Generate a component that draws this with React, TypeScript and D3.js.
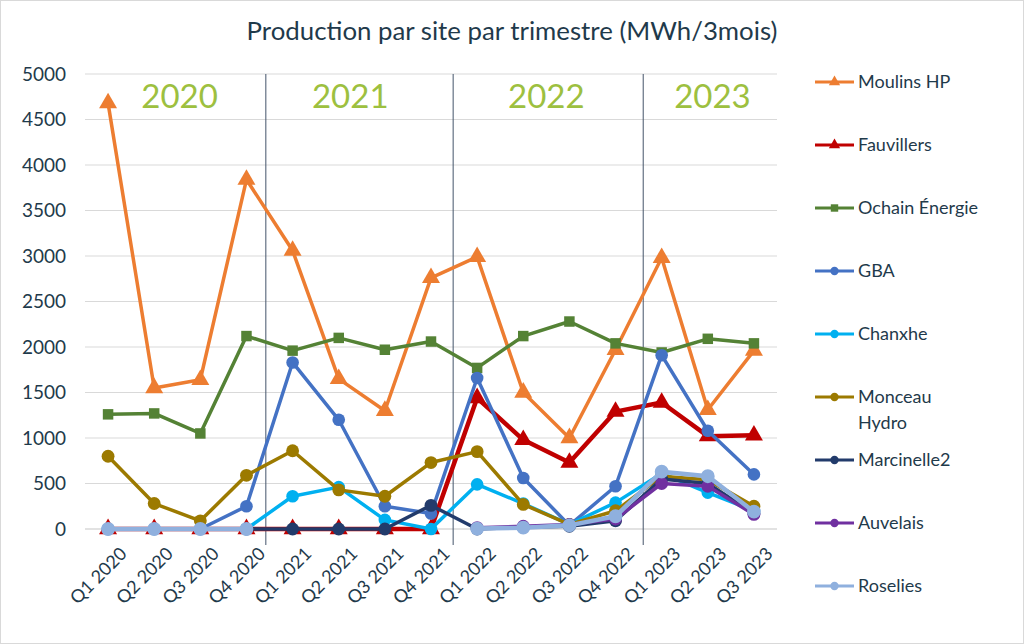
import React from 'react';
import * as d3 from 'd3';

const quarters = [
  'Q1 2020', 'Q2 2020', 'Q3 2020', 'Q4 2020',
  'Q1 2021', 'Q2 2021', 'Q3 2021', 'Q4 2021',
  'Q1 2022', 'Q2 2022', 'Q3 2022', 'Q4 2022',
  'Q1 2023', 'Q2 2023', 'Q3 2023',
];

const moulins = [4680, 1550, 1640, 3840, 3060, 1650, 1300, 2760, 2990, 1500, 1000, 1970, 2980, 1310, 1960];
const fauvillers = [0, 0, 0, 0, 0, 0, 0, 0, 1440, 980, 730, 1290, 1390, 1020, 1030];
const ochain = [1260, 1270, 1050, 2120, 1960, 2100, 1970, 2060, 1770, 2120, 2280, 2040, 1940, 2090, 2040];
const gba = [0, 0, 0, 250, 1830, 1200, 250, 170, 1660, 560, 40, 470, 1910, 1080, 600];
const chanxhe = [0, 0, 0, 0, 360, 460, 100, 0, 490, 280, 50, 290, 610, 400, 200];
const monceau = [800, 280, 90, 590, 860, 430, 360, 730, 850, 270, 50, 200, 580, 540, 250];
const marcinelle = [null, null, null, 0, 0, 0, 0, 260, 0, 20, 30, 90, 550, 500, 170];
const auvelais = [null, null, null, null, null, null, null, null, 15, 30, 50, 110, 500, 470, 160];
const roselies = [0, 0, 0, 0, null, null, null, null, 5, 15, 40, 140, 630, 580, 190];

const yTicks = [0, 500, 1000, 1500, 2000, 2500, 3000, 3500, 4000, 4500, 5000];
const years = ['2020', '2021', '2022', '2023'];
const yearCentres = [1.55, 5.25, 9.5, 13.1];
const separators = [3.42, 7.48, 11.6];

type Mark = 'triangle' | 'square' | 'circle';
interface Serie { name: string[]; values: (number | null)[]; color: string; mark: Mark; width: number; size: number; }

const series: Serie[] = [
  { name: ['Moulins HP'], values: moulins, color: '#ED7D31', mark: 'triangle', width: 3.5, size: 140 },
  { name: ['Fauvillers'], values: fauvillers, color: '#C00000', mark: 'triangle', width: 4.5, size: 140 },
  { name: ['Ochain Énergie'], values: ochain, color: '#548235', mark: 'square', width: 3.5, size: 110 },
  { name: ['GBA'], values: gba, color: '#4472C4', mark: 'circle', width: 3.5, size: 125 },
  { name: ['Chanxhe'], values: chanxhe, color: '#00B0F0', mark: 'circle', width: 3.5, size: 125 },
  { name: ['Monceau', 'Hydro'], values: monceau, color: '#9C7A00', mark: 'circle', width: 3.5, size: 130 },
  { name: ['Marcinelle2'], values: marcinelle, color: '#223B6B', mark: 'circle', width: 3.5, size: 130 },
  { name: ['Auvelais'], values: auvelais, color: '#7030A0', mark: 'circle', width: 3.5, size: 130 },
  { name: ['Roselies'], values: roselies, color: '#8FB0DE', mark: 'circle', width: 4.5, size: 150 },
];

const W = 1024;
const H = 644;
const left = 85;
const right = 777;
const top = 74;
const bottom = 529;
const text = '#1F3A4B';
const font = 'Lato, "Noto Sans", sans-serif';

const symbolOf = (m: Mark) =>
  m === 'triangle' ? d3.symbolTriangle : m === 'square' ? d3.symbolSquare : d3.symbolCircle;

export default function App() {
  const x = d3.scaleBand<string>().domain(quarters).range([left, right]);
  const cx = (i: number) => (x(quarters[0]) as number) + x.bandwidth() / 2 + i * x.step();
  const y = d3.scaleLinear().domain([0, 5000]).range([bottom, top]);

  const line = d3.line<number | null>()
    .defined((d) => d !== null)
    .x((_, i) => cx(i))
    .y((d) => y(d as number));

  return (
    <svg width={W} height={H} style={{ position: 'absolute', left: 0, top: 0, background: '#fff' }}>
      <rect x={0.5} y={0.5} width={W - 1} height={H - 1} fill="#fff" stroke="#D9D9D9" />
      <text x={512} y={40} textAnchor="middle" fontFamily={font} fontSize={25.8} fill={text}>
        Production par site par trimestre (MWh/3mois)
      </text>

      {yTicks.map((t) => (
        <g key={t}>
          <line x1={left} x2={right} y1={y(t)} y2={y(t)} stroke="#D9D9D9" strokeWidth={t === 0 ? 1.5 : 1} />
          <text x={66} y={y(t)} dy="0.35em" textAnchor="end" fontFamily={font} fontSize={19} fill={text}>{t}</text>
        </g>
      ))}

      {separators.map((s) => (
        <line key={s} x1={cx(s)} x2={cx(s)} y1={top} y2={545} stroke="#44546A" strokeWidth={1} />
      ))}

      {years.map((yr, i) => (
        <text key={yr} x={cx(yearCentres[i])} y={108} textAnchor="middle" fontFamily={font} fontSize={33} fill="#9DC03F">{yr}</text>
      ))}

      {quarters.map((q, i) => (
        <text key={q} transform={`translate(${cx(i) + 11},${546}) rotate(-45)`} textAnchor="end" dy="0.7em"
          fontFamily={font} fontSize={18} fill={text}>{q}</text>
      ))}

      {series.map((s) => (
        <g key={s.name.join(' ')}>
          <path d={line(s.values) || ''} fill="none" stroke={s.color} strokeWidth={s.width} strokeLinejoin="round" />
          {s.values.map((v, i) => v === null ? null : (
            <path key={i} transform={`translate(${cx(i)},${y(v)})`}
              d={d3.symbol().type(symbolOf(s.mark)).size(s.size)() || ''} fill={s.color} />
          ))}
        </g>
      ))}

      {series.map((s, i) => {
        const ly = 82 + i * 63;
        return (
          <g key={'lg' + i}>
            <line x1={815} x2={854} y1={ly} y2={ly} stroke={s.color} strokeWidth={3} />
            <path transform={`translate(834.5,${ly})`} d={d3.symbol().type(symbolOf(s.mark)).size(55)() || ''} fill={s.color} />
            {s.name.map((n, j) => (
              <text key={n} x={858} y={ly + j * 26} dy="0.35em" fontFamily={font} fontSize={18} fill={text}>{n}</text>
            ))}
          </g>
        );
      })}
    </svg>
  );
}
